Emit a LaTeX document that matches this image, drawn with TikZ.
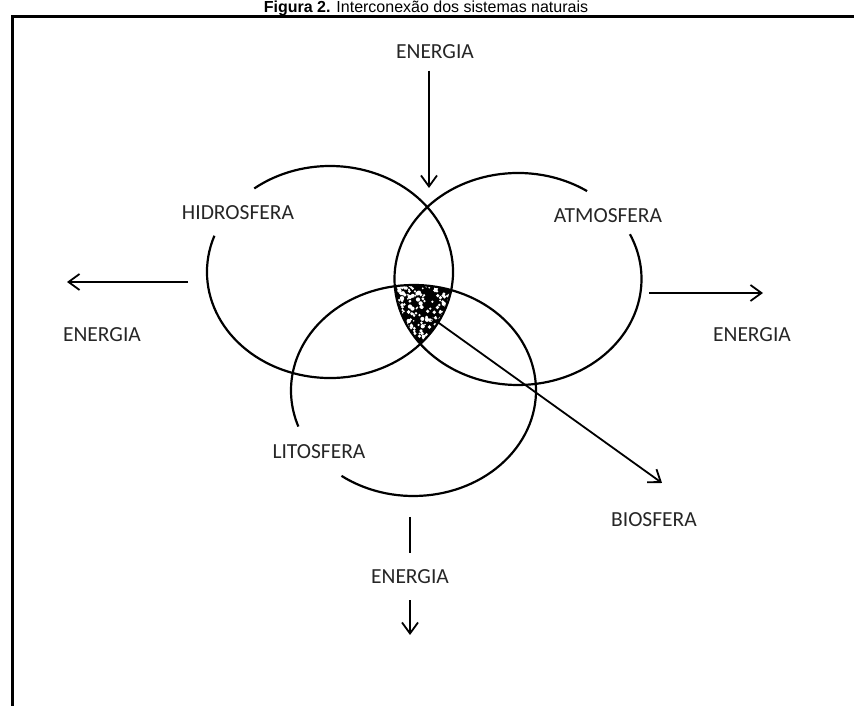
\documentclass[tikz,border=0pt]{standalone}
\usepackage{fontspec}
\setmainfont{Carlito}
\newfontfamily\titlefont{Liberation Sans}
\usetikzlibrary{arrows.meta}

\begin{document}
\begin{tikzpicture}[x=10pt,y=10pt,
  lbl/.style={font=\fontsize{21.5}{24}\selectfont, text=black!85},
  arr/.style={line width=1.8pt,-{Straight Barb[length=11pt,width=16pt]}},
  sfera/.style={line width=2.2pt}]

  \useasboundingbox (0,0) rectangle (85.4,70.6);

  % ====================================================
  % TITLE AND FRAME
  % ====================================================
  \node[anchor=base] (title) at (42.6,69.3)
    {\titlefont\fontsize{16}{19}\selectfont\textbf{Figura 2.} Interconexão dos sistemas naturais};
  \draw[line width=3pt] (90,68.9) -- (1.2,68.9) -- (1.2,-5);

  % ====================================================
  % THE THREE SPHERES
  % ====================================================
  \coordinate (hid) at (33.0,43.4);
  \coordinate (atm) at (51.8,42.7);
  \coordinate (lit) at (41.35,31.55);

  % common part of the three: biosfera (speckled)
  \begin{scope}
    \clip (hid) ellipse (12.3 and 10.6);
    \clip (atm) ellipse (12.35 and 10.6);
    \fill[black] (lit) ellipse (12.25 and 10.55);
    \pgfmathsetseed{7}
    \foreach \i in {1,...,260}{
      \pgfmathsetmacro\px{39.4+6.4*rnd}
      \pgfmathsetmacro\py{35.6+6.8*rnd}
      \pgfmathsetmacro\pr{0.08+0.14*rnd}
      \fill[white] (\px,\py) circle (\pr);
    }
  \end{scope}

  % open ellipses, gap where the name sits
  \draw[sfera] (hid) ++(160:12.3 and 10.6)
    arc[start angle=160, end angle=488, x radius=12.3, y radius=10.6];
  \draw[sfera] (atm) ++(56:12.35 and 10.6)
    arc[start angle=56, end angle=385, x radius=12.35, y radius=10.6];
  \draw[sfera] (lit) ++(234:12.25 and 10.55)
    arc[start angle=234, end angle=560, x radius=12.25, y radius=10.55];

  \node[lbl] (hidro) at (23.8,49.3) {HIDROSFERA};
  \node[lbl] (atmos) at (60.8,49.05) {ATMOSFERA};
  \node[lbl] (litos) at (31.9,25.4) {LITOSFERA};
  \node[lbl] (bios) at (65.4,18.6) {BIOSFERA};

  % ====================================================
  % ENERGY IN AND OUT
  % ====================================================
  % top: energy coming in
  \node[lbl] (etop) at (43.5,65.4) {ENERGIA};
  \coordinate (ttip) at (42.9,51.8);
  \draw[arr, shorten <=8pt] (etop.south -| ttip) -- (ttip);

  % left
  \node[lbl] (eleft) at (10.2,37.1) {ENERGIA};
  \coordinate (lstart) at (18.8,42.4);
  \coordinate (ltip) at (6.7,42.4);
  \draw[arr] (lstart) -- (ltip);

  % right
  \node[lbl] (eright) at (75.2,37.1) {ENERGIA};
  \coordinate (rstart) at (64.9,41.3);
  \coordinate (rtip) at (76.3,41.3);
  \draw[arr] (rstart) -- (rtip);

  % bottom, broken by its label
  \node[lbl, inner ysep=16.5pt] (ebot) at (41.0,12.95) {ENERGIA};
  \coordinate (dstart) at (41.0,18.9);
  \coordinate (dtip) at (41.0,7.1);
  \draw[line width=1.8pt] (dstart) -- (ebot);
  \draw[arr] (ebot) -- (dtip);

  % into the biosfera
  \coordinate (bstart) at (41.8,39.8);
  \coordinate (btip) at (66.2,22.3);
  \draw[arr] (bstart) -- (btip);
\end{tikzpicture}
\end{document}
